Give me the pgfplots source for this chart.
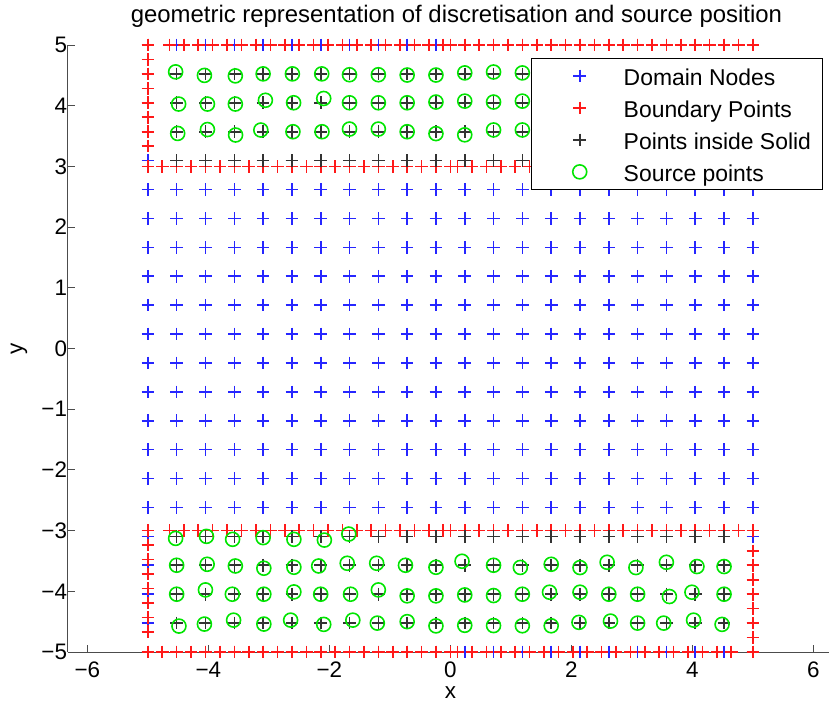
\documentclass[border=0pt]{standalone}
\usepackage{fontspec}
\setmainfont{Liberation Sans}
\usepackage{pgfplots}
\pgfplotsset{compat=1.18}
\begin{document}
\begin{tikzpicture}
\begin{axis}[
  at={(0bp,0bp)}, anchor=south west,
  scale only axis, width=764.7bp, height=607bp,
  xmin=-6.32, xmax=6.32, ymin=-5, ymax=5,
  clip=false,
  axis x line*=bottom, axis y line*=left,
  axis line style={draw=black!70, line width=1bp},
  tick style={draw=black!70, line width=0.8bp},
  tick align=inside, major tick length=7bp,
  xtick={-6,-4,-2,0,2,4,6}, xticklabels={−6,−4,−2,0,2,4,6},
  ytick={-5,-4,-3,-2,-1,0,1,2,3,4,5}, yticklabels={−5,−4,−3,−2,−1,0,1,2,3,4,5},
  tick label style={font=\fontsize{22.5}{27}\selectfont},
  xticklabel style={yshift=-6.5bp},
  yticklabel style={xshift=2.5bp},
  xlabel={x}, ylabel={y},
  label style={font=\fontsize{22.5}{27}\selectfont},
  xlabel style={at={(0.5,0)}, anchor=base, yshift=-46bp},
  ylabel style={at={(0,0.5)}, anchor=center, yshift=49bp},
  title={geometric representation of discretisation and source position},
  title style={font=\fontsize{24}{29}\selectfont, at={(0.508,1)}, anchor=base, yshift=17bp},
  legend style={at={(0.9865,0.9786)}, anchor=north east, draw=black, line width=0.8bp,
    fill=white, font=\fontsize{23}{27}\selectfont, inner xsep=4bp, inner ysep=1.5bp,
    row sep=0pt, nodes={text height=20.5bp, text depth=0.5bp, inner ysep=5.5bp, inner xsep=7bp}},
  legend cell align=left,
  legend image code/.code={\draw[#1,draw=none,mark repeat=2,mark phase=2] plot coordinates {(0bp,0bp) (44bp,0bp) (81bp,0bp)};},
]
% Domain nodes
\addplot[draw=none, mark=+, mark size=6.3bp, mark options={line width=1.6bp, draw=blue!85!white}] coordinates {
(-5,5) (-4.524,5) (-4.048,5) (-3.571,5) (-3.095,5) (-2.619,5) (-2.143,5) (-1.667,5) (-1.19,5) (-0.714,5) (-0.238,5) (0.238,5) (0.714,5) (1.19,5) (1.667,5) (2.143,5) (2.619,5) (3.095,5) (3.571,5) (4.048,5) (4.524,5) (5,5)
(-5,4.524) (-4.524,4.524) (-4.048,4.524) (-3.571,4.524) (-3.095,4.524) (-2.619,4.524) (-2.143,4.524) (-1.667,4.524) (-1.19,4.524) (-0.714,4.524) (-0.238,4.524) (0.238,4.524) (0.714,4.524) (1.19,4.524) (1.667,4.524) (2.143,4.524) (2.619,4.524) (3.095,4.524) (3.571,4.524) (4.048,4.524) (4.524,4.524) (5,4.524)
(-5,4.048) (-4.524,4.048) (-4.048,4.048) (-3.571,4.048) (-3.095,4.048) (-2.619,4.048) (-2.143,4.048) (-1.667,4.048) (-1.19,4.048) (-0.714,4.048) (-0.238,4.048) (0.238,4.048) (0.714,4.048) (1.19,4.048) (1.667,4.048) (2.143,4.048) (2.619,4.048) (3.095,4.048) (3.571,4.048) (4.048,4.048) (4.524,4.048) (5,4.048)
(-5,3.571) (-4.524,3.571) (-4.048,3.571) (-3.571,3.571) (-3.095,3.571) (-2.619,3.571) (-2.143,3.571) (-1.667,3.571) (-1.19,3.571) (-0.714,3.571) (-0.238,3.571) (0.238,3.571) (0.714,3.571) (1.19,3.571) (1.667,3.571) (2.143,3.571) (2.619,3.571) (3.095,3.571) (3.571,3.571) (4.048,3.571) (4.524,3.571) (5,3.571)
(-5,3.095) (-4.524,3.095) (-4.048,3.095) (-3.571,3.095) (-3.095,3.095) (-2.619,3.095) (-2.143,3.095) (-1.667,3.095) (-1.19,3.095) (-0.714,3.095) (-0.238,3.095) (0.238,3.095) (0.714,3.095) (1.19,3.095) (1.667,3.095) (2.143,3.095) (2.619,3.095) (3.095,3.095) (3.571,3.095) (4.048,3.095) (4.524,3.095) (5,3.095)
(-5,2.619) (-4.524,2.619) (-4.048,2.619) (-3.571,2.619) (-3.095,2.619) (-2.619,2.619) (-2.143,2.619) (-1.667,2.619) (-1.19,2.619) (-0.714,2.619) (-0.238,2.619) (0.238,2.619) (0.714,2.619) (1.19,2.619) (1.667,2.619) (2.143,2.619) (2.619,2.619) (3.095,2.619) (3.571,2.619) (4.048,2.619) (4.524,2.619) (5,2.619)
(-5,2.143) (-4.524,2.143) (-4.048,2.143) (-3.571,2.143) (-3.095,2.143) (-2.619,2.143) (-2.143,2.143) (-1.667,2.143) (-1.19,2.143) (-0.714,2.143) (-0.238,2.143) (0.238,2.143) (0.714,2.143) (1.19,2.143) (1.667,2.143) (2.143,2.143) (2.619,2.143) (3.095,2.143) (3.571,2.143) (4.048,2.143) (4.524,2.143) (5,2.143)
(-5,1.667) (-4.524,1.667) (-4.048,1.667) (-3.571,1.667) (-3.095,1.667) (-2.619,1.667) (-2.143,1.667) (-1.667,1.667) (-1.19,1.667) (-0.714,1.667) (-0.238,1.667) (0.238,1.667) (0.714,1.667) (1.19,1.667) (1.667,1.667) (2.143,1.667) (2.619,1.667) (3.095,1.667) (3.571,1.667) (4.048,1.667) (4.524,1.667) (5,1.667)
(-5,1.19) (-4.524,1.19) (-4.048,1.19) (-3.571,1.19) (-3.095,1.19) (-2.619,1.19) (-2.143,1.19) (-1.667,1.19) (-1.19,1.19) (-0.714,1.19) (-0.238,1.19) (0.238,1.19) (0.714,1.19) (1.19,1.19) (1.667,1.19) (2.143,1.19) (2.619,1.19) (3.095,1.19) (3.571,1.19) (4.048,1.19) (4.524,1.19) (5,1.19)
(-5,0.714) (-4.524,0.714) (-4.048,0.714) (-3.571,0.714) (-3.095,0.714) (-2.619,0.714) (-2.143,0.714) (-1.667,0.714) (-1.19,0.714) (-0.714,0.714) (-0.238,0.714) (0.238,0.714) (0.714,0.714) (1.19,0.714) (1.667,0.714) (2.143,0.714) (2.619,0.714) (3.095,0.714) (3.571,0.714) (4.048,0.714) (4.524,0.714) (5,0.714)
(-5,0.238) (-4.524,0.238) (-4.048,0.238) (-3.571,0.238) (-3.095,0.238) (-2.619,0.238) (-2.143,0.238) (-1.667,0.238) (-1.19,0.238) (-0.714,0.238) (-0.238,0.238) (0.238,0.238) (0.714,0.238) (1.19,0.238) (1.667,0.238) (2.143,0.238) (2.619,0.238) (3.095,0.238) (3.571,0.238) (4.048,0.238) (4.524,0.238) (5,0.238)
(-5,-0.238) (-4.524,-0.238) (-4.048,-0.238) (-3.571,-0.238) (-3.095,-0.238) (-2.619,-0.238) (-2.143,-0.238) (-1.667,-0.238) (-1.19,-0.238) (-0.714,-0.238) (-0.238,-0.238) (0.238,-0.238) (0.714,-0.238) (1.19,-0.238) (1.667,-0.238) (2.143,-0.238) (2.619,-0.238) (3.095,-0.238) (3.571,-0.238) (4.048,-0.238) (4.524,-0.238) (5,-0.238)
(-5,-0.714) (-4.524,-0.714) (-4.048,-0.714) (-3.571,-0.714) (-3.095,-0.714) (-2.619,-0.714) (-2.143,-0.714) (-1.667,-0.714) (-1.19,-0.714) (-0.714,-0.714) (-0.238,-0.714) (0.238,-0.714) (0.714,-0.714) (1.19,-0.714) (1.667,-0.714) (2.143,-0.714) (2.619,-0.714) (3.095,-0.714) (3.571,-0.714) (4.048,-0.714) (4.524,-0.714) (5,-0.714)
(-5,-1.19) (-4.524,-1.19) (-4.048,-1.19) (-3.571,-1.19) (-3.095,-1.19) (-2.619,-1.19) (-2.143,-1.19) (-1.667,-1.19) (-1.19,-1.19) (-0.714,-1.19) (-0.238,-1.19) (0.238,-1.19) (0.714,-1.19) (1.19,-1.19) (1.667,-1.19) (2.143,-1.19) (2.619,-1.19) (3.095,-1.19) (3.571,-1.19) (4.048,-1.19) (4.524,-1.19) (5,-1.19)
(-5,-1.667) (-4.524,-1.667) (-4.048,-1.667) (-3.571,-1.667) (-3.095,-1.667) (-2.619,-1.667) (-2.143,-1.667) (-1.667,-1.667) (-1.19,-1.667) (-0.714,-1.667) (-0.238,-1.667) (0.238,-1.667) (0.714,-1.667) (1.19,-1.667) (1.667,-1.667) (2.143,-1.667) (2.619,-1.667) (3.095,-1.667) (3.571,-1.667) (4.048,-1.667) (4.524,-1.667) (5,-1.667)
(-5,-2.143) (-4.524,-2.143) (-4.048,-2.143) (-3.571,-2.143) (-3.095,-2.143) (-2.619,-2.143) (-2.143,-2.143) (-1.667,-2.143) (-1.19,-2.143) (-0.714,-2.143) (-0.238,-2.143) (0.238,-2.143) (0.714,-2.143) (1.19,-2.143) (1.667,-2.143) (2.143,-2.143) (2.619,-2.143) (3.095,-2.143) (3.571,-2.143) (4.048,-2.143) (4.524,-2.143) (5,-2.143)
(-5,-2.619) (-4.524,-2.619) (-4.048,-2.619) (-3.571,-2.619) (-3.095,-2.619) (-2.619,-2.619) (-2.143,-2.619) (-1.667,-2.619) (-1.19,-2.619) (-0.714,-2.619) (-0.238,-2.619) (0.238,-2.619) (0.714,-2.619) (1.19,-2.619) (1.667,-2.619) (2.143,-2.619) (2.619,-2.619) (3.095,-2.619) (3.571,-2.619) (4.048,-2.619) (4.524,-2.619) (5,-2.619)
(-5,-3.095) (-4.524,-3.095) (-4.048,-3.095) (-3.571,-3.095) (-3.095,-3.095) (-2.619,-3.095) (-2.143,-3.095) (-1.667,-3.095) (-1.19,-3.095) (-0.714,-3.095) (-0.238,-3.095) (0.238,-3.095) (0.714,-3.095) (1.19,-3.095) (1.667,-3.095) (2.143,-3.095) (2.619,-3.095) (3.095,-3.095) (3.571,-3.095) (4.048,-3.095) (4.524,-3.095) (5,-3.095)
(-5,-3.571) (-4.524,-3.571) (-4.048,-3.571) (-3.571,-3.571) (-3.095,-3.571) (-2.619,-3.571) (-2.143,-3.571) (-1.667,-3.571) (-1.19,-3.571) (-0.714,-3.571) (-0.238,-3.571) (0.238,-3.571) (0.714,-3.571) (1.19,-3.571) (1.667,-3.571) (2.143,-3.571) (2.619,-3.571) (3.095,-3.571) (3.571,-3.571) (4.048,-3.571) (4.524,-3.571) (5,-3.571)
(-5,-4.048) (-4.524,-4.048) (-4.048,-4.048) (-3.571,-4.048) (-3.095,-4.048) (-2.619,-4.048) (-2.143,-4.048) (-1.667,-4.048) (-1.19,-4.048) (-0.714,-4.048) (-0.238,-4.048) (0.238,-4.048) (0.714,-4.048) (1.19,-4.048) (1.667,-4.048) (2.143,-4.048) (2.619,-4.048) (3.095,-4.048) (3.571,-4.048) (4.048,-4.048) (4.524,-4.048) (5,-4.048)
(-5,-4.524) (-4.524,-4.524) (-4.048,-4.524) (-3.571,-4.524) (-3.095,-4.524) (-2.619,-4.524) (-2.143,-4.524) (-1.667,-4.524) (-1.19,-4.524) (-0.714,-4.524) (-0.238,-4.524) (0.238,-4.524) (0.714,-4.524) (1.19,-4.524) (1.667,-4.524) (2.143,-4.524) (2.619,-4.524) (3.095,-4.524) (3.571,-4.524) (4.048,-4.524) (4.524,-4.524) (5,-4.524)
(-5,-5) (-4.524,-5) (-4.048,-5) (-3.571,-5) (-3.095,-5) (-2.619,-5) (-2.143,-5) (-1.667,-5) (-1.19,-5) (-0.714,-5) (-0.238,-5) (0.238,-5) (0.714,-5) (1.19,-5) (1.667,-5) (2.143,-5) (2.619,-5) (3.095,-5) (3.571,-5) (4.048,-5) (4.524,-5) (5,-5)
};
\addlegendentry{Domain Nodes}
% Boundary points
\addplot[draw=none, mark=+, mark size=6.3bp, mark options={line width=1.6bp, draw=red!90!white}] coordinates {
(-5,5) (-4.643,5) (-4.405,5) (-4.167,5) (-3.929,5) (-3.69,5) (-3.452,5) (-3.214,5) (-2.976,5) (-2.738,5) (-2.5,5) (-2.262,5) (-2.024,5) (-1.786,5) (-1.548,5) (-1.31,5) (-1.071,5) (-0.833,5) (-0.595,5) (-0.357,5) (-0.119,5)
(0,5) (0.238,5) (0.476,5) (0.714,5) (0.952,5) (1.19,5) (1.429,5) (1.667,5) (1.905,5) (2.143,5) (2.381,5) (2.619,5) (2.857,5) (3.095,5) (3.333,5) (3.571,5) (3.81,5) (4.048,5) (4.286,5) (4.524,5) (4.762,5) (5,5)
(-5,4.762) (-5,4.524) (-5,4.286) (-5,4.048) (-5,3.81) (-5,3.571) (-5,3.333)
(-5,3) (-4.762,3) (-4.524,3) (-4.286,3) (-4.048,3) (-3.81,3) (-3.571,3) (-3.333,3) (-3.095,3) (-2.857,3) (-2.619,3) (-2.381,3) (-2.143,3) (-1.905,3) (-1.667,3) (-1.429,3) (-1.19,3) (-0.952,3) (-0.714,3) (-0.476,3) (-0.238,3) (0,3)
(0.119,3) (0.357,3) (0.595,3) (0.833,3) (1.071,3) (1.31,3) (1.548,3) (1.786,3) (2.024,3) (2.262,3) (2.5,3) (2.738,3) (2.976,3) (3.214,3) (3.452,3) (3.69,3) (3.929,3) (4.167,3) (4.405,3) (4.643,3) (5,3)
(5,3.238) (5,3.476) (5,3.714) (5,3.952) (5,4.19) (5,4.429) (5,4.667)
(-5,-3) (-4.643,-3) (-4.405,-3) (-4.167,-3) (-3.929,-3) (-3.69,-3) (-3.452,-3) (-3.214,-3) (-2.976,-3) (-2.738,-3) (-2.5,-3) (-2.262,-3) (-2.024,-3) (-1.786,-3) (-1.548,-3) (-1.31,-3) (-1.071,-3) (-0.833,-3) (-0.595,-3) (-0.357,-3) (-0.119,-3)
(0,-3) (0.238,-3) (0.476,-3) (0.714,-3) (0.952,-3) (1.19,-3) (1.429,-3) (1.667,-3) (1.905,-3) (2.143,-3) (2.381,-3) (2.619,-3) (2.857,-3) (3.095,-3) (3.333,-3) (3.571,-3) (3.81,-3) (4.048,-3) (4.286,-3) (4.524,-3) (4.762,-3) (5,-3)
(-5,-3.238) (-5,-3.476) (-5,-3.714) (-5,-3.952) (-5,-4.19) (-5,-4.429) (-5,-4.667)
(-5,-5) (-4.762,-5) (-4.524,-5) (-4.286,-5) (-4.048,-5) (-3.81,-5) (-3.571,-5) (-3.333,-5) (-3.095,-5) (-2.857,-5) (-2.619,-5) (-2.381,-5) (-2.143,-5) (-1.905,-5) (-1.667,-5) (-1.429,-5) (-1.19,-5) (-0.952,-5) (-0.714,-5) (-0.476,-5) (-0.238,-5) (0,-5)
(0.119,-5) (0.357,-5) (0.595,-5) (0.833,-5) (1.071,-5) (1.31,-5) (1.548,-5) (1.786,-5) (2.024,-5) (2.262,-5) (2.5,-5) (2.738,-5) (2.976,-5) (3.214,-5) (3.452,-5) (3.69,-5) (3.929,-5) (4.167,-5) (4.405,-5) (4.643,-5) (5,-5)
(5,-3.333) (5,-3.571) (5,-3.81) (5,-4.048) (5,-4.286) (5,-4.524) (5,-4.762)
};
\addlegendentry{Boundary Points}
% Points inside solid
\addplot[draw=none, mark=+, mark size=6.3bp, mark options={line width=1.6bp, draw=black!80}] coordinates {
(-4.524,4.524) (-4.048,4.524) (-3.571,4.524) (-3.095,4.524) (-2.619,4.524) (-2.143,4.524) (-1.667,4.524) (-1.19,4.524) (-0.714,4.524) (-0.238,4.524) (0.238,4.524) (0.714,4.524) (1.19,4.524) (1.667,4.524) (2.143,4.524) (2.619,4.524) (3.095,4.524) (3.571,4.524) (4.048,4.524) (4.524,4.524)
(-4.524,4.048) (-4.048,4.048) (-3.571,4.048) (-3.095,4.048) (-2.619,4.048) (-2.143,4.048) (-1.667,4.048) (-1.19,4.048) (-0.714,4.048) (-0.238,4.048) (0.238,4.048) (0.714,4.048) (1.19,4.048) (1.667,4.048) (2.143,4.048) (2.619,4.048) (3.095,4.048) (3.571,4.048) (4.048,4.048) (4.524,4.048)
(-4.524,3.571) (-4.048,3.571) (-3.571,3.571) (-3.095,3.571) (-2.619,3.571) (-2.143,3.571) (-1.667,3.571) (-1.19,3.571) (-0.714,3.571) (-0.238,3.571) (0.238,3.571) (0.714,3.571) (1.19,3.571) (1.667,3.571) (2.143,3.571) (2.619,3.571) (3.095,3.571) (3.571,3.571) (4.048,3.571) (4.524,3.571)
(-4.524,3.095) (-4.048,3.095) (-3.571,3.095) (-3.095,3.095) (-2.619,3.095) (-2.143,3.095) (-1.667,3.095) (-1.19,3.095) (-0.714,3.095) (-0.238,3.095) (0.238,3.095) (0.714,3.095) (1.19,3.095) (1.667,3.095) (2.143,3.095) (2.619,3.095) (3.095,3.095) (3.571,3.095) (4.048,3.095) (4.524,3.095)
(-4.524,-3.095) (-4.048,-3.095) (-3.571,-3.095) (-3.095,-3.095) (-2.619,-3.095) (-2.143,-3.095) (-1.667,-3.095) (-1.19,-3.095) (-0.714,-3.095) (-0.238,-3.095) (0.238,-3.095) (0.714,-3.095) (1.19,-3.095) (1.667,-3.095) (2.143,-3.095) (2.619,-3.095) (3.095,-3.095) (3.571,-3.095) (4.048,-3.095) (4.524,-3.095)
(-4.524,-3.571) (-4.048,-3.571) (-3.571,-3.571) (-3.095,-3.571) (-2.619,-3.571) (-2.143,-3.571) (-1.667,-3.571) (-1.19,-3.571) (-0.714,-3.571) (-0.238,-3.571) (0.238,-3.571) (0.714,-3.571) (1.19,-3.571) (1.667,-3.571) (2.143,-3.571) (2.619,-3.571) (3.095,-3.571) (3.571,-3.571) (4.048,-3.571) (4.524,-3.571)
(-4.524,-4.048) (-4.048,-4.048) (-3.571,-4.048) (-3.095,-4.048) (-2.619,-4.048) (-2.143,-4.048) (-1.667,-4.048) (-1.19,-4.048) (-0.714,-4.048) (-0.238,-4.048) (0.238,-4.048) (0.714,-4.048) (1.19,-4.048) (1.667,-4.048) (2.143,-4.048) (2.619,-4.048) (3.095,-4.048) (3.571,-4.048) (4.048,-4.048) (4.524,-4.048)
(-4.524,-4.524) (-4.048,-4.524) (-3.571,-4.524) (-3.095,-4.524) (-2.619,-4.524) (-2.143,-4.524) (-1.667,-4.524) (-1.19,-4.524) (-0.714,-4.524) (-0.238,-4.524) (0.238,-4.524) (0.714,-4.524) (1.19,-4.524) (1.667,-4.524) (2.143,-4.524) (2.619,-4.524) (3.095,-4.524) (3.571,-4.524) (4.048,-4.524) (4.524,-4.524)
};
\addlegendentry{Points inside Solid}
% Source points
\addplot[draw=none, mark=o, mark size=7bp, mark options={line width=1.6bp, draw=green!90!black, fill=none}] coordinates {
(-4.541,4.557) (-4.065,4.499) (-3.554,4.491) (-3.095,4.524) (-2.611,4.524) (-2.126,4.524) (-1.667,4.51) (-1.19,4.51) (-0.714,4.505) (-0.238,4.505) (0.238,4.54) (0.714,4.555) (1.19,4.54) (1.667,4.524) (2.143,4.524) (2.619,4.524) (3.095,4.524) (3.571,4.524) (4.048,4.524) (4.524,4.524)
(-4.491,4.027) (-4.015,4.027) (-3.554,4.027) (-3.057,4.089) (-2.591,4.048) (-2.093,4.119) (-1.667,4.048) (-1.19,4.048) (-0.714,4.048) (-0.238,4.06) (0.238,4.075) (0.714,4.06) (1.19,4.075) (1.667,4.048) (2.143,4.048) (2.619,4.048) (3.095,4.048) (3.571,4.048) (4.048,4.048) (4.524,4.048)
(-4.507,3.543) (-4.015,3.607) (-3.55,3.517) (-3.133,3.599) (-2.602,3.571) (-2.122,3.571) (-1.667,3.615) (-1.19,3.615) (-0.714,3.571) (-0.238,3.54) (0.238,3.52) (0.714,3.6) (1.19,3.6) (1.667,3.571) (2.143,3.571) (2.619,3.571) (3.095,3.571) (3.571,3.571) (4.048,3.571) (4.524,3.571)
(-4.541,-3.128) (-4.031,-3.095) (-3.599,-3.144) (-3.095,-3.116) (-2.586,-3.144) (-2.082,-3.156) (-1.679,-3.057)
(-4.524,-3.571) (-4.02,-3.555) (-3.554,-3.583) (-3.083,-3.62) (-2.586,-3.604) (-2.176,-3.583) (-1.705,-3.538) (-1.218,-3.538) (-0.742,-3.571) (-0.238,-3.604) (0.193,-3.505) (0.714,-3.571) (1.157,-3.607) (1.667,-3.555) (2.143,-3.609) (2.591,-3.522) (3.067,-3.609) (3.571,-3.522) (4.076,-3.592) (4.524,-3.592)
(-4.524,-4.048) (-4.048,-3.977) (-3.604,-4.048) (-3.083,-4.048) (-2.586,-4.01) (-2.143,-4.048) (-1.65,-4.048) (-1.19,-3.977) (-0.714,-4.075) (-0.238,-4.075) (0.238,-4.06) (0.714,-4.07) (1.19,-4.048) (1.639,-4.015) (2.143,-4.015) (2.619,-4.048) (3.095,-4.048) (3.621,-4.086) (3.993,-4.015) (4.524,-4.048)
(-4.486,-4.573) (-4.065,-4.54) (-3.583,-4.475) (-3.083,-4.54) (-2.64,-4.475) (-2.093,-4.545) (-1.612,-4.475) (-1.207,-4.524) (-0.714,-4.5) (-0.238,-4.57) (0.238,-4.56) (0.714,-4.565) (1.19,-4.568) (1.667,-4.568) (2.126,-4.512) (2.647,-4.491) (3.095,-4.524) (3.526,-4.524) (4.02,-4.475) (4.491,-4.545)
};
\addlegendentry{Source points}
\end{axis}
\pgfresetboundingbox
\path (-68bp,-61bp) rectangle (761bp,652bp);
\end{tikzpicture}
\end{document}
